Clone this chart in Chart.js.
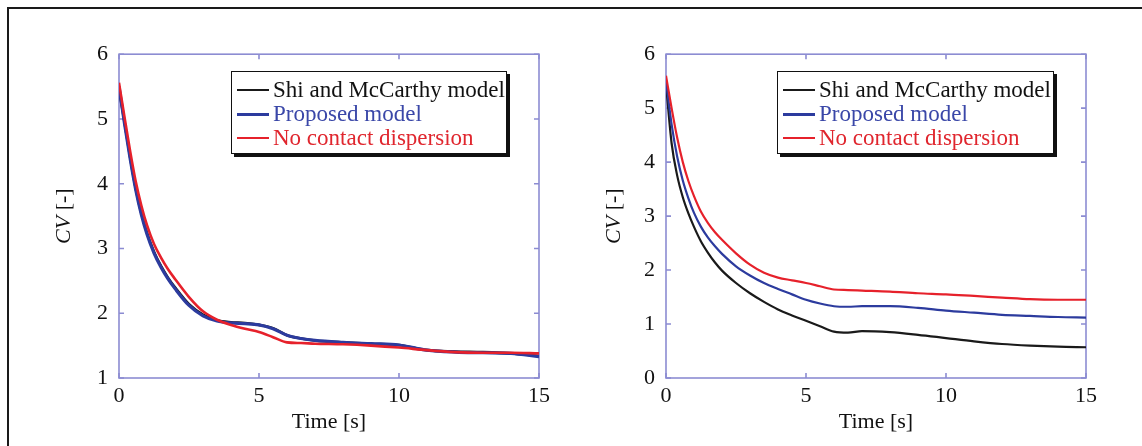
<!DOCTYPE html>
<html>
<head>
<meta charset="utf-8">
<script src="https://cdn.jsdelivr.net/npm/chart.js@4.4.0/dist/chart.umd.min.js"></script>
<style>
  html, body { margin: 0; padding: 0; background: #fff; width: 1142px; height: 446px; overflow: hidden; }
  .frame { position: absolute; left: 7px; top: 7px; width: 1160px; height: 470px; border: 2px solid #1a1a1a; }
  .panel { position: absolute; top: 30px; width: 540px; height: 416px; }
  .legend {
    position: absolute; top: 71px; height: 83px; background: #fff;
    border: 1.5px solid #111; box-shadow: 3px 3px 0 #111; box-sizing: border-box;
    font-family: 'Liberation Serif', 'Times New Roman', serif; font-size: 23px; line-height: 24px;
    padding: 6px 0 0 5px;
  }
  .legend .row { display: flex; align-items: center; white-space: nowrap; height: 24px; }
  .legend .swatch { display: inline-block; width: 32px; margin-right: 4px; }
</style>
</head>
<body>
<div class="frame"></div>
<div class="panel" style="left:20px"><canvas id="cvLeft" width="540" height="416"></canvas></div>
<div class="panel" style="left:567px"><canvas id="cvRight" width="540" height="416"></canvas></div>
<div class="legend" id="legendLeft" style="left:231px; width:276px"></div>
<div class="legend" id="legendRight" style="left:777px; width:277px"></div>

<script>
// series labels and colours
const seriesNames = ['Shi and McCarthy model', 'Proposed model', 'No contact dispersion'];
const lineColors = ['#1a1a1a', '#2c3b9e', '#e6212b'];
const textColors = ['#111111', '#3a47a8', '#e0262e'];

// shared time grid [s]
const timeGrid = [0, 0.2, 0.4, 0.6, 0.8, 1.0, 1.25, 1.5, 1.75, 2.0, 2.5, 3.0, 3.5, 4.0, 4.5,
                  5.0, 5.5, 6.0, 6.5, 7, 8, 9, 10, 11, 12, 13, 14, 15];

// left panel, CV [-]
const shiLeft       = [5.46, 4.94, 4.40, 3.92, 3.54, 3.24, 2.95, 2.73, 2.55, 2.40, 2.14, 1.98, 1.89, 1.86, 1.85,
                       1.82, 1.77, 1.66, 1.61, 1.58, 1.55, 1.53, 1.51, 1.43, 1.41, 1.40, 1.38, 1.34];
const proposedLeft  = [5.50, 4.92, 4.38, 3.90, 3.52, 3.22, 2.93, 2.71, 2.53, 2.38, 2.12, 1.96, 1.88, 1.85, 1.84,
                       1.82, 1.76, 1.66, 1.61, 1.58, 1.55, 1.53, 1.51, 1.43, 1.40, 1.39, 1.38, 1.33];
const noContactLeft = [5.56, 5.02, 4.50, 4.03, 3.66, 3.36, 3.07, 2.86, 2.68, 2.53, 2.25, 2.03, 1.90, 1.82, 1.76,
                       1.71, 1.63, 1.55, 1.54, 1.53, 1.52, 1.50, 1.47, 1.43, 1.40, 1.39, 1.39, 1.38];

// right panel, CV [-]
const shiRight       = [5.45, 4.35, 3.75, 3.35, 3.05, 2.80, 2.53, 2.32, 2.14, 1.99, 1.76, 1.57, 1.41, 1.27, 1.16,
                        1.06, 0.96, 0.86, 0.84, 0.87, 0.85, 0.80, 0.74, 0.68, 0.63, 0.60, 0.58, 0.57];
const proposedRight  = [5.50, 4.70, 4.10, 3.66, 3.33, 3.06, 2.80, 2.60, 2.44, 2.30, 2.07, 1.90, 1.76, 1.65, 1.55,
                        1.45, 1.38, 1.33, 1.32, 1.33, 1.33, 1.30, 1.25, 1.21, 1.17, 1.15, 1.13, 1.12];
const noContactRight = [5.60, 5.00, 4.45, 4.00, 3.65, 3.37, 3.08, 2.87, 2.70, 2.56, 2.31, 2.10, 1.95, 1.86, 1.81,
                        1.76, 1.70, 1.64, 1.63, 1.62, 1.60, 1.57, 1.55, 1.52, 1.49, 1.46, 1.45, 1.45];

// axis ticks
const timeTicks = [0, 5, 10, 15];
const cvTicksLeft = [1, 2, 3, 4, 5, 6];
const cvTicksRight = [0, 1, 2, 3, 4, 5, 6];

const AXIS_COLOR = '#8c8cd2';
const SERIF = "'Liberation Serif', 'Times New Roman', serif";

// box round the plot area with short ticks pointing inwards on all four sides
const frameTicks = {
  id: 'frameTicks',
  beforeDatasetsDraw(chart) {
    const { ctx, chartArea: a, scales } = chart;
    const len = 5;
    ctx.save();
    ctx.strokeStyle = AXIS_COLOR;
    ctx.lineWidth = 1.6;
    ctx.strokeRect(a.left, a.top, a.right - a.left, a.bottom - a.top);
    ctx.beginPath();
    scales.x.ticks.forEach(t => {
      const px = scales.x.getPixelForValue(t.value);
      ctx.moveTo(px, a.bottom); ctx.lineTo(px, a.bottom - len);
      ctx.moveTo(px, a.top); ctx.lineTo(px, a.top + len);
    });
    scales.y.ticks.forEach(t => {
      const py = scales.y.getPixelForValue(t.value);
      ctx.moveTo(a.left, py); ctx.lineTo(a.left + len, py);
      ctx.moveTo(a.right, py); ctx.lineTo(a.right - len, py);
    });
    ctx.stroke();
    ctx.restore();
  }
};

// rotated y title: "CV" in italics, unit upright
const cvTitle = {
  id: 'cvTitle',
  afterDraw(chart, args, opts) {
    const { ctx, chartArea: a } = chart;
    const italic = 'italic 22px ' + SERIF;
    const upright = '22px ' + SERIF;
    ctx.save();
    ctx.translate(a.left - opts.offset, (a.top + a.bottom) / 2);
    ctx.rotate(-Math.PI / 2);
    ctx.textBaseline = 'middle';
    ctx.textAlign = 'left';
    ctx.fillStyle = '#111';
    ctx.font = italic;
    const w1 = ctx.measureText('CV').width;
    ctx.font = upright;
    const w2 = ctx.measureText(' [-]').width;
    const x0 = -(w1 + w2) / 2;
    ctx.font = italic;
    ctx.fillText('CV', x0, 0);
    ctx.font = upright;
    ctx.fillText(' [-]', x0 + w1, 0);
    ctx.restore();
  }
};

// legend built as html from the datasets
const htmlLegend = {
  id: 'htmlLegend',
  afterUpdate(chart, args, opts) {
    const box = document.getElementById(opts.containerID);
    box.innerHTML = '';
    chart.data.datasets.forEach(ds => {
      const row = document.createElement('div');
      row.className = 'row';
      const sw = document.createElement('span');
      sw.className = 'swatch';
      sw.style.borderTop = ds.legendWidth + 'px solid ' + ds.borderColor;
      const label = document.createElement('span');
      label.textContent = ds.label;
      label.style.color = ds.textColor;
      row.appendChild(sw);
      row.appendChild(label);
      box.appendChild(row);
    });
  }
};

function makePanel(canvasId, legendId, values, yMin, yMax, yTicks, widths, titleOffset) {
  const datasets = values.map((vals, i) => ({
    label: seriesNames[i],
    data: timeGrid.map((t, k) => ({ x: t, y: vals[k] })),
    borderColor: lineColors[i],
    textColor: textColors[i],
    borderWidth: widths[i],
    legendWidth: i === 1 ? 3.5 : 2,
    pointRadius: 0,
    cubicInterpolationMode: 'monotone',
    order: 2 - i
  }));

  return new Chart(document.getElementById(canvasId), {
    type: 'line',
    data: { datasets },
    options: {
      responsive: false,
      animation: false,
      devicePixelRatio: 1,
      layout: { autoPadding: false, padding: { top: 14, right: 21, left: 0, bottom: 0 } },
      plugins: {
        legend: { display: false },
        tooltip: { enabled: false },
        htmlLegend: { containerID: legendId },
        cvTitle: { offset: titleOffset }
      },
      scales: {
        x: {
          type: 'linear',
          min: 0, max: 15,
          afterBuildTicks: s => { s.ticks = timeTicks.map(v => ({ value: v })); },
          afterFit: s => { s.height = 68; },
          grid: { display: false, drawTicks: false },
          border: { display: false },
          ticks: { color: '#111', padding: 5, font: { family: SERIF, size: 22 }, maxRotation: 0 },
          title: { display: true, text: 'Time [s]', color: '#111', padding: { top: 0, bottom: 11 },
                   font: { family: SERIF, size: 22 } }
        },
        y: {
          type: 'linear',
          min: yMin, max: yMax,
          afterBuildTicks: s => { s.ticks = yTicks.map(v => ({ value: v })); },
          afterFit: s => { s.width = 99; },
          grid: { display: false, drawTicks: false },
          border: { display: false },
          ticks: { color: '#111', padding: 11, font: { family: SERIF, size: 22 } }
        }
      }
    },
    plugins: [frameTicks, cvTitle, htmlLegend]
  });
}

makePanel('cvLeft', 'legendLeft', [shiLeft, proposedLeft, noContactLeft], 1, 6, cvTicksLeft, [2.6, 3.2, 2.6], 55);
makePanel('cvRight', 'legendRight', [shiRight, proposedRight, noContactRight], 0, 6, cvTicksRight, [2.2, 2.2, 2.2], 52);
</script>
</body>
</html>
